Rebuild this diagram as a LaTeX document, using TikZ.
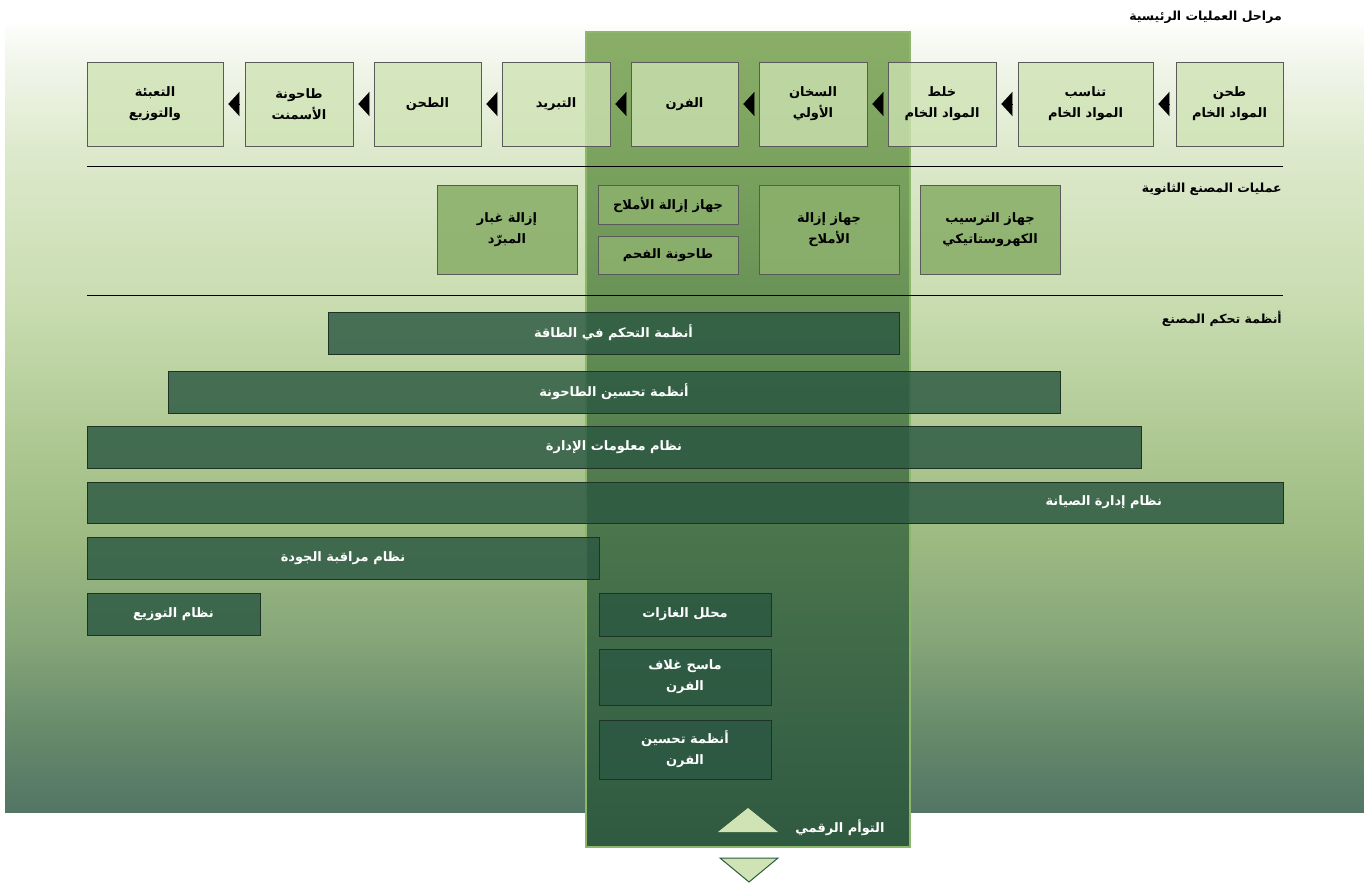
\documentclass[tikz,border=0pt]{standalone}
\usepackage{fontspec}
\usetikzlibrary{arrows.meta}
\newfontfamily\arabicfont[Script=Arabic]{DejaVu Sans}
\TeXXeTstate=1
\newcommand{\artxt}[1]{{\arabicfont\bfseries\beginR #1\endR}}
\definecolor{stagefill}{HTML}{CFE3B4}
\definecolor{secfill}{HTML}{8CB06C}
\definecolor{barfill}{HTML}{2B5842}
\definecolor{colborder}{HTML}{8DB86B}
\definecolor{boxborder}{HTML}{5A5A5A}
\definecolor{barborder}{HTML}{1E3326}
\definecolor{trifill}{HTML}{CFE3B5}
\definecolor{tridark}{HTML}{2E5A40}
% background stops
\definecolor{bgA}{HTML}{FFFFFF}
\definecolor{bgB}{HTML}{F2F6EC}
\definecolor{bgC}{HTML}{DDE9CC}
\definecolor{bgD}{HTML}{C9DDB1}
\definecolor{bgE}{HTML}{ADC791}
\definecolor{bgF}{HTML}{9DBA82}
\definecolor{bgG}{HTML}{86A679}
\definecolor{bgH}{HTML}{6A8D6C}
\definecolor{bgI}{HTML}{527565}
% column stops
\definecolor{coA}{HTML}{8AAE68}
\definecolor{coB}{HTML}{7AA25E}
\definecolor{coC}{HTML}{679156}
\definecolor{coD}{HTML}{557F4F}
\definecolor{coE}{HTML}{45704A}
\definecolor{coF}{HTML}{3A6446}
\definecolor{coG}{HTML}{2F5A40}
\pgfdeclareverticalshading{bgshade}{100bp}{color(0bp)=(bgI); color(25bp)=(bgI); color(30.8bp)=(bgH); color(35.9bp)=(bgG); color(42.2bp)=(bgF); color(47.9bp)=(bgE); color(57.3bp)=(bgD); color(66.8bp)=(bgC); color(72.5bp)=(bgB); color(75bp)=(bgA); color(100bp)=(bgA)}
\pgfdeclareverticalshading{colshade}{100bp}{color(0bp)=(coG); color(25bp)=(coG); color(33bp)=(coF); color(41bp)=(coE); color(50bp)=(coD); color(58bp)=(coC); color(67bp)=(coB); color(75bp)=(coA); color(100bp)=(coA)}
\begin{document}
\begin{tikzpicture}[x=1pt,y=-1pt,
  txt/.style={font=\fontsize{13}{21}\selectfont, align=center, inner sep=0pt},
  stage/.style={txt, draw=boxborder, line width=0.8pt, fill=stagefill, fill opacity=0.77, text opacity=1, minimum height=84pt},
  sec/.style={txt, draw=boxborder, line width=0.8pt, fill=secfill, fill opacity=0.9, text opacity=1},
  bar/.style={txt, draw=barborder, line width=0.8pt, fill=barfill, fill opacity=0.82, text opacity=1, text=white},
  bartext/.style={txt, text=white},
  title/.style={txt, anchor=east, font=\fontsize{12.5}{15}\selectfont},
  flow/.style={-{Triangle[length=11pt,width=24pt]}, line width=0.1pt, black},
]
\useasboundingbox (0,0) rectangle (1364,883);
% background
\shade[shading=bgshade] (5,20) rectangle (1364,812);
% central column
\shade[shading=colshade] (586,32) rectangle (910,847);
\draw[colborder, line width=1.5pt] (586,32) rectangle (910,847);
% separator lines
\draw[black, line width=0.8pt] (87,166) -- (1283,166);
\draw[black, line width=0.8pt] (87,295) -- (1283,295);
% titles
\node[title] (t1) at (1282,17) {\artxt{مراحل العمليات الرئيسية}};
\node[title] (t2) at (1282,189) {\artxt{عمليات المصنع الثانوية}};
\node[title] (t3) at (1282,319) {\artxt{أنظمة تحكم المصنع}};
% main stages
\node[stage, minimum width=107pt] (s1) at (1229.5,104) {\artxt{طحن}\\\artxt{المواد الخام}};
\node[stage, minimum width=135pt] (s2) at (1085.5,104) {\artxt{تناسب}\\\artxt{المواد الخام}};
\node[stage, minimum width=108pt] (s3) at (942,104) {\artxt{خلط}\\\artxt{المواد الخام}};
\node[stage, minimum width=108pt] (s4) at (813,104) {\artxt{السخان}\\\artxt{الأولي}};
\node[stage, minimum width=107pt] (s5) at (684.5,104) {\artxt{الفرن}};
\node[stage, minimum width=108pt] (s6) at (556,104) {\artxt{التبريد}};
\node[stage, minimum width=107pt] (s7) at (427.5,104) {\artxt{الطحن}};
\node[stage, minimum width=108pt] (s8) at (299,104) {\artxt{طاحونة}\\\artxt{الأسمنت}};
\node[stage, minimum width=136pt] (s9) at (155,104) {\artxt{التعبئة}\\\artxt{والتوزيع}};
\foreach \a/\b in {s1/s2,s2/s3,s3/s4,s4/s5,s5/s6,s6/s7,s7/s8,s8/s9}
  \draw[flow, shorten <=6pt, shorten >=5pt] (\a.west) -- (\b.east);
% secondary
\node[sec, minimum width=140pt, minimum height=89pt] (e1) at (990,229.5) {\artxt{جهاز الترسيب}\\\artxt{الكهروستاتيكي}};
\node[sec, minimum width=140pt, minimum height=89pt] (e2) at (829,229.5) {\artxt{جهاز إزالة}\\\artxt{الأملاح}};
\node[sec, minimum width=140pt, minimum height=39pt] (e3) at (668,204.5) {\artxt{جهاز إزالة الأملاح}};
\node[sec, minimum width=140pt, minimum height=38pt] (e4) at (668,255) {\artxt{طاحونة الفحم}};
\node[sec, minimum width=140pt, minimum height=89pt] (e5) at (507,229.5) {\artxt{إزالة غبار}\\\artxt{المبرّد}};
% control bars
\node[bar, minimum width=571pt, minimum height=42pt] (b1) at (613.5,333) {\artxt{أنظمة التحكم في الطاقة}};
\node[bar, minimum width=892pt, minimum height=42pt] (b2) at (614,392) {\artxt{أنظمة تحسين الطاحونة}};
\node[bar, minimum width=1054pt, minimum height=42pt] (b3) at (614,447) {\artxt{نظام معلومات الإدارة}};
\node[bar, minimum width=1196pt, minimum height=41pt, text width=954pt, align=right] (b4) at (685,502.5) {\artxt{نظام إدارة الصيانة}};
\node[bar, minimum width=512pt, minimum height=42pt] (b5) at (343,558) {\artxt{نظام مراقبة الجودة}};
\node[bar, minimum width=173pt, minimum height=42pt] (b6) at (173.5,614) {\artxt{نظام التوزيع}};
\node[bar, minimum width=172pt, minimum height=43pt] (c1) at (685,614.5) {\artxt{محلل الغازات}};
\node[bar, minimum width=172pt, minimum height=56pt] (c2) at (685,677) {\artxt{ماسح غلاف}\\\artxt{الفرن}};
\node[bar, minimum width=172pt, minimum height=59pt] (c3) at (685,749.5) {\artxt{أنظمة تحسين}\\\artxt{الفرن}};
% digital twin
\fill[trifill] (718,832) -- (748,808) -- (778,832) -- cycle;
\node[bartext] (dt) at (840,828) {\artxt{التوأم الرقمي}};
\draw[tridark, fill=trifill, line width=1pt] (720,858) -- (778,858) -- (749,882) -- cycle;
\end{tikzpicture}
\end{document}
